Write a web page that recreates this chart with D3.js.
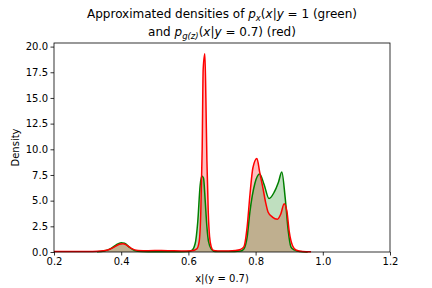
<!DOCTYPE html>
<html><head><meta charset="utf-8">
<script src="https://cdn.jsdelivr.net/npm/d3@7"></script>
<style>body{margin:0;background:#fff}svg{display:block;font-family:"DejaVu Sans",sans-serif}</style>
</head><body><svg id="c" width="432" height="288"></svg>
<script>
// x positions and density values
const redX = [0.20,0.30,0.33,0.36,0.38,0.395,0.405,0.415,0.43,0.45,0.48,0.52,0.55,0.58,0.61,0.625,0.632,0.637,0.641,0.644,0.649,0.652,0.655,0.659,0.663,0.668,0.675,0.70,0.74,0.755,0.765,0.775,0.783,0.792,0.804,0.812,0.822,0.83,0.837,0.85,0.865,0.875,0.885,0.893,0.90,0.91,0.92,0.94,0.965];
const redY = [0.05,0.05,0.08,0.2,0.5,0.75,0.8,0.7,0.35,0.15,0.12,0.15,0.12,0.1,0.12,0.3,1.0,4,10,17.8,19.3,15,9,4,1.5,0.5,0.15,0.1,0.15,0.25,0.5,2.5,5.5,8.2,9.1,7.8,6.2,4.8,3.9,3.4,3.2,3.7,4.7,4.0,2.0,0.6,0.2,0.05,0.02];
const greenX = [0.328,0.35,0.37,0.385,0.40,0.41,0.425,0.44,0.46,0.50,0.56,0.60,0.61,0.62,0.628,0.635,0.640,0.645,0.65,0.655,0.66,0.668,0.68,0.72,0.755,0.765,0.775,0.783,0.798,0.812,0.825,0.84,0.855,0.868,0.878,0.888,0.897,0.905,0.915,0.93,0.955];
const greenY = [0.02,0.1,0.35,0.7,0.9,0.85,0.45,0.15,0.05,0.03,0.03,0.05,0.15,0.8,3,6.5,7.4,7.2,5,2.5,1.0,0.3,0.05,0.04,0.1,0.3,1.5,3.9,6.7,7.6,6.6,5.2,5.8,6.8,7.8,5.3,2.1,0.5,0.2,0.05,0.01];
const xTicks = [0.2,0.4,0.6,0.8,1.0,1.2];
const yTicks = [0,2.5,5,7.5,10,12.5,15,17.5,20];

const svg = d3.select("#c");
const L=54,R=390,T=43,B=252;
const x = d3.scaleLinear().domain([0.2,1.2]).range([L,R]);
const y = d3.scaleLinear().domain([0,20.35]).range([B,T]);

const red = redX.map((v,i)=>[v,redY[i]]);
const green = greenX.map((v,i)=>[v,greenY[i]]);
const curve = d3.curveMonotoneX;
const area = d3.area().x(d=>x(d[0])).y0(y(0)).y1(d=>y(d[1])).curve(curve);
const line = d3.line().x(d=>x(d[0])).y(d=>y(d[1])).curve(curve);

const g = svg.append("g");
g.append("path").attr("d",area(red)).attr("fill","red").attr("fill-opacity",0.25);
g.append("path").attr("d",area(green)).attr("fill","green").attr("fill-opacity",0.25);
g.append("path").attr("d",line(green)).attr("fill","none").attr("stroke","green").attr("stroke-width",1.5);
g.append("path").attr("d",line(red)).attr("fill","none").attr("stroke","red").attr("stroke-width",1.5);

// axes
const xa = svg.append("g").attr("transform",`translate(0,${B})`)
  .call(d3.axisBottom(x).tickValues(xTicks).tickFormat(d3.format(".1f")).tickSizeOuter(0).tickSize(3.5));
const ya = svg.append("g").attr("transform",`translate(${L},0)`)
  .call(d3.axisLeft(y).tickValues(yTicks).tickFormat(d3.format(".1f")).tickSizeOuter(0).tickSize(3.5));
[xa,ya].forEach(a=>{a.select(".domain").remove();
  a.selectAll("text").attr("font-family","DejaVu Sans").attr("font-size",10).attr("fill","#000");
  a.selectAll("line").attr("stroke","#000").attr("stroke-width",0.8);});
xa.selectAll("text").attr("dy","0.71em").attr("y",6);
ya.selectAll("text").attr("x",-6);

svg.append("rect").attr("x",L).attr("y",T).attr("width",R-L).attr("height",B-T)
  .attr("fill","none").attr("stroke","#000").attr("stroke-width",0.8);

svg.append("text").attr("x",(L+R)/2).attr("y",282).attr("text-anchor","middle")
  .attr("font-size",10).text("x|(y = 0.7)");
svg.append("text").attr("transform",`translate(19,${(T+B)/2}) rotate(-90)`).attr("text-anchor","middle")
  .attr("font-size",10).text("Density");

// title with math-like parts
const t1 = svg.append("text").attr("x",(L+R)/2).attr("y",18).attr("text-anchor","middle").attr("font-size",12);
t1.append("tspan").text("Approximated densities of ");
t1.append("tspan").attr("font-style","italic").text("p");
t1.append("tspan").attr("font-style","italic").attr("font-size",8.5).attr("dy",2.5).text("x");
t1.append("tspan").attr("dy",-2.5).text("(");
t1.append("tspan").attr("font-style","italic").text("x");
t1.append("tspan").text("|");
t1.append("tspan").attr("font-style","italic").text("y");
t1.append("tspan").text(" = 1 (green)");
const t2 = svg.append("text").attr("x",(L+R)/2).attr("y",36).attr("text-anchor","middle").attr("font-size",12);
t2.append("tspan").text("and ");
t2.append("tspan").attr("font-style","italic").text("p");
t2.append("tspan").attr("font-style","italic").attr("font-size",8.5).attr("dy",2.5).text("g(z)");
t2.append("tspan").attr("dy",-2.5).text("(");
t2.append("tspan").attr("font-style","italic").text("x");
t2.append("tspan").text("|");
t2.append("tspan").attr("font-style","italic").text("y");
t2.append("tspan").text(" = 0.7) (red)");
</script></body></html>
